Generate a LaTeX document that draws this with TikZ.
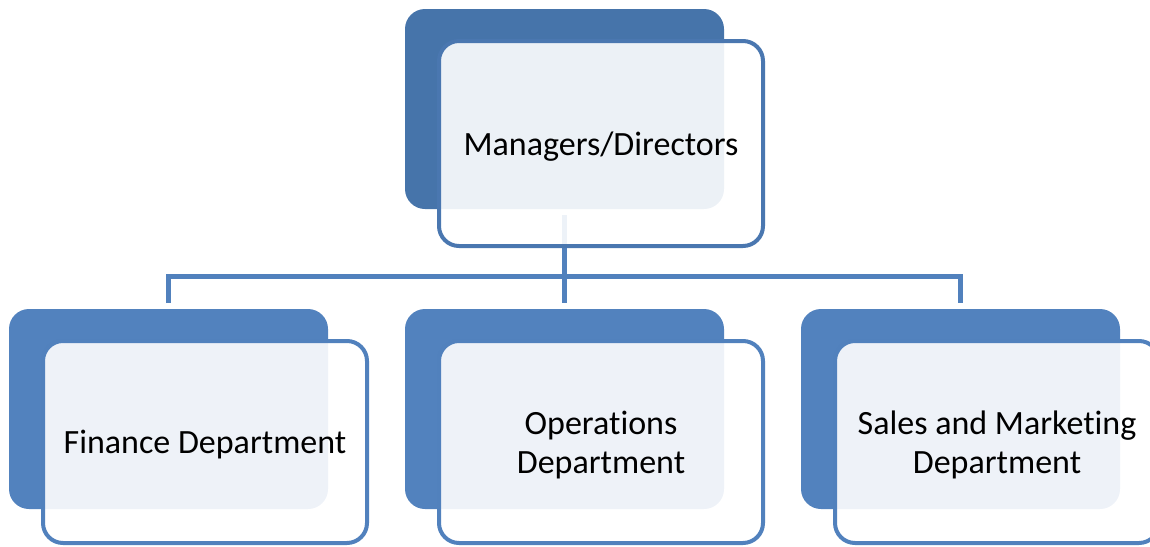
\documentclass[tikz,border=0pt]{standalone}
\usepackage{fontspec}
\setmainfont{Carlito}[Ligatures={NoCommon,NoRequired,NoContextual}, Contextuals=NoAlternate]
\definecolor{topdark}{HTML}{4674AA}
\definecolor{botdark}{HTML}{5282BE}
\definecolor{topline}{HTML}{4A77B0}
\definecolor{botline}{HTML}{5181BD}
\tikzset{
  back/.style={rounded corners=20pt, draw=none, inner sep=0pt, outer sep=0pt},
  topback/.style={back, fill=topdark, minimum width=319pt, minimum height=200pt},
  botback/.style={back, fill=botdark, minimum width=319pt, minimum height=200pt},
  front/.style={rounded corners=20pt, fill=white, fill opacity=0.9, text opacity=1,
    line width=4pt, inner sep=0pt, outer sep=0pt, align=center, text depth=0pt,
    font=\fontsize{34}{39}\selectfont, text=black},
  topfront/.style={front, draw=topline, minimum width=324pt, minimum height=205pt},
  botfront/.style={front, draw=botline, minimum width=324pt, minimum height=202pt},
  conn/.style={draw=botline, line width=5pt}
}
\begin{document}
\begin{tikzpicture}[x=1pt, y=-1pt]
\useasboundingbox (0,0) rectangle (1150,546);
% back rectangles
\node[topback] (mdark) at (564.5,109) {};
\node[botback] (fdark) at (168.5,409) {};
\node[botback] (odark) at (564.5,409) {};
\node[botback] (sdark) at (960.5,409) {};
% connectors
\coordinate (bus) at (564.5,276);
\draw[conn] ([yshift=-6pt]mdark.south) -- (mdark.south |- bus);
\draw[conn] ([yshift=6pt]fdark.north) -- (fdark.north |- bus) -- (sdark.north |- bus) -- ([yshift=6pt]sdark.north);
\draw[conn] (odark.north |- bus) -- ([yshift=6pt]odark.north);
% front boxes
\node[topfront] (mgr) at (601,143.5) {Managers/Directors};
\node[botfront] (fin) at (205,442) {Finance Department};
\node[botfront] (ops) at (601,442) {Operations\\Department};
\node[botfront] (sal) at (997,442) {Sales and Marketing\\Department};
\end{tikzpicture}
\end{document}
